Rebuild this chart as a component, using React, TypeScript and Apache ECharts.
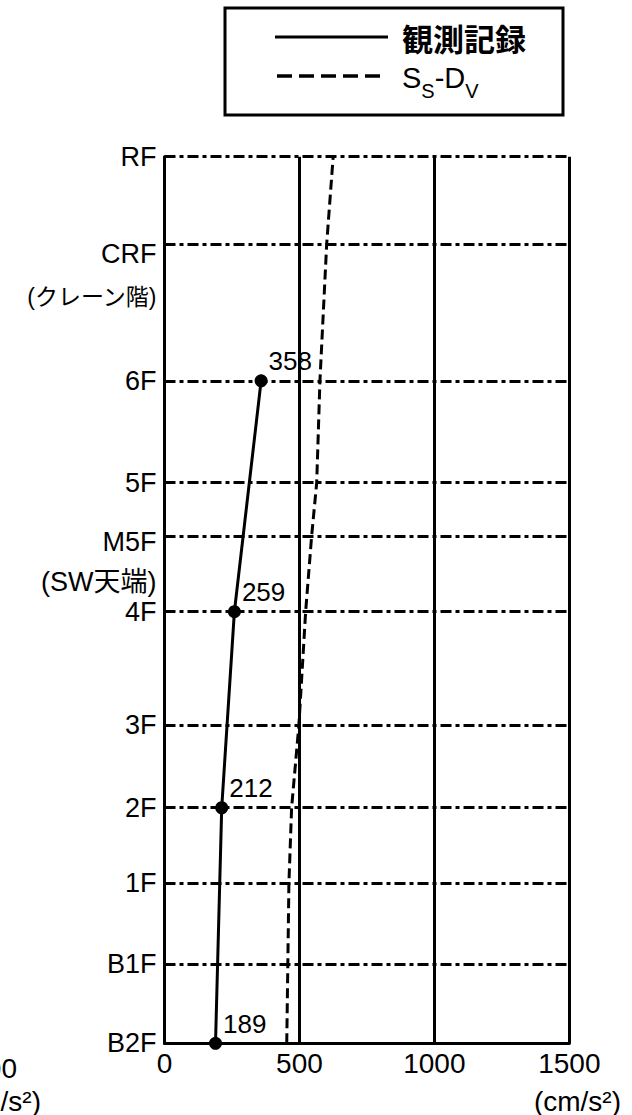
import React, { useEffect, useRef } from "react";
import * as echarts from "echarts";

// Floors (bottom -> top) and their relative levels (m above B2F)
const floorNames = ["B2F", "B1F", "1F", "2F", "3F", "4F", "M5F", "5F", "6F", "CRF", "RF"];
const floorLevels = [0, 3.94, 7.94, 11.69, 15.8, 21.42, 25.14, 27.82, 32.88, 39.67, 44.0];
const floorNotes: Record<string, string> = { CRF: "(クレーン階)", M5F: "(SW天端)" };

// 観測記録 (observed maximum acceleration, cm/s²)
const observedFloors = ["B2F", "2F", "4F", "6F"];
const observedValues = [189, 212, 259, 358];

// Ss-Dv (design response, cm/s²) for every floor, bottom -> top
const designValues = [453, 457, 461, 471, 498, 523, 545, 564, 576, 601, 625];

const xTicks = [0, 500, 1000, 1500];

const SANS = '"Liberation Sans", Arial, sans-serif';
const MIXED = '"Liberation Sans", "Noto Sans CJK JP", sans-serif';
const CJK = '"Noto Sans CJK JP", sans-serif';

const levelOf = (name: string) => floorLevels[floorNames.indexOf(name)];

function floorLabel(v: number): string {
  const i = floorLevels.findIndex((l) => Math.abs(l - v) < 1e-6);
  if (i < 0) return "";
  const n = floorNames[i];
  if (n === "CRF") return `{gapC| }\n{c|${n}}\n{j|${floorNotes[n]}}`;
  if (n === "M5F") return `{gapM| }\n{m|${n}}\n{k|${floorNotes[n]}}`;
  return n;
}

export default function App() {
  const ref = useRef<HTMLDivElement>(null);
  useEffect(() => {
    const chart = echarts.init(ref.current!, null, { renderer: "svg" });
    const observedData = observedFloors.map((f, i) => [observedValues[i], levelOf(f)]);
    const designData = floorNames.map((f, i) => [designValues[i], floorLevels[i]]);
    chart.setOption({
      animation: false,
      backgroundColor: "#fff",
      grid: { left: 164.5, right: 62.7, top: 156.7, bottom: 71.7, containLabel: false },
      xAxis: {
        type: "value",
        min: xTicks[0],
        max: xTicks[xTicks.length - 1],
        interval: 500,
        axisLine: { show: true, lineStyle: { color: "#000", width: 3 } },
        axisTick: { show: false },
        axisLabel: {
          color: "#000",
          fontFamily: SANS,
          fontSize: 28,
          margin: 6,
          formatter: (v: number) => String(v),
        },
        splitLine: { show: true, lineStyle: { color: "#000", width: 3, type: "solid" } },
      },
      yAxis: {
        type: "value",
        min: 0,
        max: floorLevels[floorLevels.length - 1],
        axisLine: { show: true, onZero: false, lineStyle: { color: "#000", width: 3 } },
        axisTick: { show: false },
        splitLine: { show: false },
        axisLabel: {
          customValues: floorLevels,
          color: "#000",
          fontFamily: SANS,
          fontSize: 27,
          margin: 8,
          formatter: floorLabel,
          rich: {
            gapC: { lineHeight: 46, fontSize: 8 },
            c: { lineHeight: 60, fontSize: 27, fontFamily: SANS, color: "#000" },
            j: { lineHeight: 26, fontSize: 23, fontFamily: MIXED, color: "#000" },
            gapM: { lineHeight: 39, fontSize: 8 },
            m: { lineHeight: 52, fontSize: 27, fontFamily: SANS, color: "#000" },
            k: { lineHeight: 28, fontSize: 27, fontFamily: MIXED, color: "#000" },
          },
        },
      },
      series: [
        {
          name: "Ss-Dv",
          type: "line",
          data: designData,
          showSymbol: false,
          symbol: "none",
          lineStyle: { color: "#000", width: 3, type: [10, 5] },
          z: 3,
          markLine: {
            silent: true,
            symbol: ["none", "none"],
            label: { show: false },
            lineStyle: { color: "#000", width: 3, type: [11, 4, 4, 4] },
            data: floorLevels.slice(1).map((l) => ({ yAxis: l })),
            z: 2,
          },
        },
        {
          name: "観測記録",
          type: "line",
          data: observedData,
          symbol: "circle",
          symbolSize: 13,
          itemStyle: { color: "#000" },
          lineStyle: { color: "#000", width: 3 },
          z: 4,
          label: {
            show: true,
            position: [14, -13],
            align: "left",
            verticalAlign: "middle",
            color: "#000",
            fontFamily: SANS,
            fontSize: 26,
            formatter: (p: any) => String(p.value[0]),
          },
        },
      ],
      graphic: [
        {
          type: "rect",
          shape: { x: 225, y: 8, width: 338, height: 107 },
          style: { fill: "#fff", stroke: "#000", lineWidth: 3 },
        },
        { type: "line", shape: { x1: 275, y1: 37, x2: 388, y2: 37 }, style: { stroke: "#000", lineWidth: 3 } },
        {
          type: "line",
          shape: { x1: 277, y1: 76, x2: 380, y2: 76 },
          style: { stroke: "#000", lineWidth: 3.5, lineDash: [15, 7] },
        },
        {
          type: "text",
          x: 402,
          y: 37,
          style: {
            text: "観測記録",
            font: `bold 31px ${CJK}`,
            lineHeight: 32,
            fill: "#000",
            verticalAlign: "middle",
          },
        },
        {
          type: "text",
          x: 402,
          y: 63,
          style: {
            text: "{b|S}{s|S}{b|-D}{s|V}",
            fill: "#000",
            verticalAlign: "top",
            rich: {
              b: { fontSize: 29, fontFamily: SANS, lineHeight: 29, verticalAlign: "top", fill: "#000" },
              s: { fontSize: 20, fontFamily: SANS, lineHeight: 38, verticalAlign: "bottom", fill: "#000" },
            },
          },
        },
        {
          type: "text",
          x: 621,
          y: 1101,
          style: { text: "(cm/s²)", fontFamily: SANS, fontSize: 28, fill: "#000", align: "right", verticalAlign: "middle" },
        },
        {
          type: "text",
          x: 17,
          y: 1068,
          style: { text: "1500", fontFamily: SANS, fontSize: 28, fill: "#000", align: "right", verticalAlign: "middle" },
        },
        {
          type: "text",
          x: 41,
          y: 1101,
          style: { text: "(cm/s²)", fontFamily: SANS, fontSize: 28, fill: "#000", align: "right", verticalAlign: "middle" },
        },
      ],
    });
    return () => chart.dispose();
  }, []);
  return (
    <div
      ref={ref}
      style={{ position: "absolute", left: 0, top: 0, width: 632, height: 1115, background: "#fff" }}
    />
  );
}
